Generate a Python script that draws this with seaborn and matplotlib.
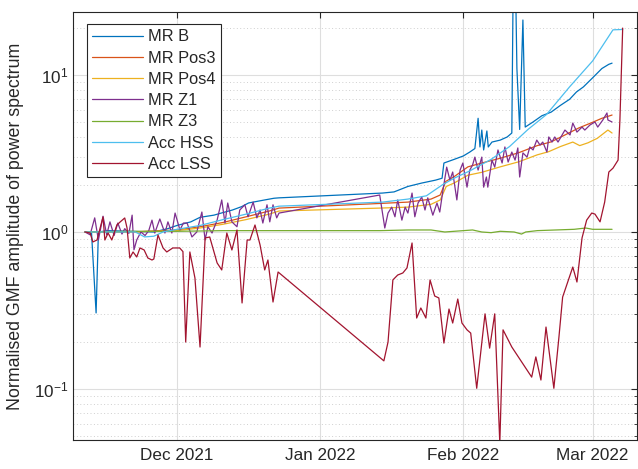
import matplotlib
matplotlib.use("Agg")
import matplotlib.pyplot as plt
import matplotlib.dates as mdates
from matplotlib.ticker import LogLocator, NullFormatter
import numpy as np
import pandas as pd
import seaborn as sns

# ---------------- data (days relative to 2021-12-01, normalised amplitude) -------------
base_date = "2021-12-01"

mrb_days = [-19.9, -18.5, -17.5, -17.0, -15, -10, -5, -2, 0, 3, 5, 8, 10, 12, 14, 15.5, 17, 19, 21, 22.1,
            44.5, 47, 50, 53, 56, 57.4, 57.8, 60, 62, 63.4, 64.5, 65.2, 65.6, 66.0, 66.4, 67.1, 67.4, 68.2,
            70, 71.5, 72.5, 72.8, 73.3, 73.6, 74.2, 74.9, 75.4, 77, 79, 81, 83, 85, 86.5, 88, 90, 92, 93.5, 94.2]
mrb_vals = [1.0, 1.0, 0.305, 1.0, 1.02, 1.01, 1.0, 1.05, 1.1, 1.16, 1.24, 1.28, 1.33, 1.38, 1.45, 1.53, 1.56, 1.6, 1.64, 1.65,
            1.77, 1.80, 1.95, 2.05, 2.14, 2.2, 2.75, 2.9, 3.05, 3.23, 3.4, 5.3, 3.48, 4.46, 3.33, 4.4, 3.48, 3.74,
            3.85, 4.03, 4.27, 40.0, 40.0, 11.0, 4.5, 22.4, 4.66, 5.0, 5.5, 5.8, 6.4, 7.0, 7.8, 8.4, 9.6, 11.0, 11.7, 11.9]

pos3_days = [-19.9, -10, 0, 5, 10, 15, 20, 22.1, 44, 50, 55, 57, 58.2, 60, 63, 66, 70, 74, 78, 81, 84, 87, 90, 92, 94.2]
pos3_vals = [1.0, 1.0, 1.03, 1.08, 1.15, 1.25, 1.36, 1.42, 1.52, 1.55, 1.62, 1.72, 2.1, 2.25, 2.6, 2.75, 2.95, 3.2,
             3.55, 3.75, 4.15, 4.6, 5.0, 5.3, 5.56]

pos4_days = [-19.9, -10, 0, 5, 10, 15, 20, 22.1, 44, 50, 55, 57, 58.3, 60, 63, 66, 70, 74, 78, 80.5, 83, 85.7,
             87.2, 89, 91, 93.3, 94.2]
pos4_vals = [1.0, 1.0, 1.02, 1.06, 1.12, 1.2, 1.3, 1.36, 1.42, 1.44, 1.5, 1.6, 1.95, 2.05, 2.3, 2.4, 2.6, 2.8, 3.1,
             3.25, 3.5, 3.74, 3.55, 3.7, 3.95, 4.46, 4.27]

z1_days = [-19.9, -18.8, -17.8, -17.0, -16.0, -15.2, -14.5, -13.6, -12.8, -11.9, -11.3, -10.4, -9.7, -9.3, -8.7,
           -7.8, -6.9, -6.1, -5.4, -4.8, -3.7, -2.6, -1.95, -1.1, -0.4, 0.65, 1.4, 2.2, 3.25, 4.3, 5.4, 6.1, 6.7,
           7.6, 8.7, 9.7, 10.4, 11.0, 11.9, 13.0, 13.6, 14.7, 15.4, 16.5, 17.3, 18.0, 18.6, 19.5, 20.1, 20.8, 21.6,
           22.1, 43.9, 45.0, 45.7, 46.5, 47.2, 47.8, 48.7, 49.4, 50.0, 50.9, 51.5, 52.2, 53.0, 53.7, 54.3, 55.4,
           56.3, 56.9, 57.6, 58.4, 59.1, 59.7, 60.6, 61.3, 61.9, 62.8, 63.4, 64.0, 64.5, 65.2, 66.0, 66.4, 67.0,
           67.3, 68.2, 68.8, 69.5, 70.4, 71.0, 71.7, 72.5, 73.2, 73.8, 74.2, 74.9, 75.8, 76.4, 77.1, 77.9, 78.6,
           79.2, 80.1, 80.5, 81.2, 81.8, 82.5, 84.0, 85.1, 85.7, 86.6, 87.7, 88.3, 89.4, 90.5, 91.1, 92.2, 93.1,
           93.3, 94.2]
z1_vals = [1.0, 0.96, 1.23, 0.89, 1.26, 0.96, 1.16, 0.95, 1.14, 0.97, 1.05, 0.98, 1.28, 0.77, 0.89,
           1.0, 0.95, 1.02, 1.19, 0.985, 1.21, 0.985, 1.16, 0.985, 1.32, 1.03, 1.14, 1.14, 0.93, 1.0, 1.34, 0.89, 1.08,
           0.985, 1.19, 1.60, 1.14, 1.53, 1.16, 1.08, 1.38, 1.49, 1.25, 1.55, 1.23, 1.38, 1.14, 1.49, 1.16, 1.49, 1.23,
           1.32, 1.72, 1.06, 1.32, 1.44, 1.25, 1.60, 1.19, 1.44, 1.32, 1.77, 1.25, 1.53, 1.67, 1.38, 1.65, 1.28,
           1.53, 1.34, 1.85, 2.59, 2.14, 2.41, 1.60, 2.48, 2.75, 1.93, 2.48, 2.67, 3.00, 2.48, 3.00, 1.93, 2.24,
           1.93, 2.87, 2.59, 3.33, 2.75, 3.48, 2.79, 3.23, 2.87, 3.43, 2.24, 3.19, 3.00, 3.48, 3.33, 3.85, 3.58,
           3.74, 3.23, 4.03, 3.74, 4.03, 3.74, 4.46, 4.15, 4.94, 4.33, 4.66, 4.46, 4.80, 5.02, 4.66, 5.17, 5.73,
           5.17, 5.02]

z3_days = [-19.9, -10, 0, 10, 20, 22.1, 44, 50, 55, 58, 60, 64, 66, 68, 70, 73, 74.6, 75.5, 78, 82, 86, 88.5, 90, 94.2]
z3_vals = [1.0, 1.01, 1.01, 1.02, 1.02, 1.02, 1.02, 1.03, 1.03, 1.0, 1.01, 1.03, 1.0, 0.99, 1.01, 1.0, 0.97, 1.0,
           1.02, 1.03, 1.04, 1.06, 1.04, 1.04]

hss_days = [-19.9, -13, -9, -7, -5, -3, 0, 5, 10, 15, 20, 22.1, 44.5, 50, 54, 57.5, 60, 63.4, 68, 72, 76, 80, 85,
            90, 94.4, 96.5]
hss_vals = [1.0, 1.0, 1.0, 0.93, 0.94, 1.0, 1.04, 1.1, 1.2, 1.3, 1.42, 1.46, 1.55, 1.62, 1.7, 2.0, 2.2, 2.45, 2.9,
            3.5, 4.5, 5.6, 8.4, 12.3, 19.4, 19.5]

lss_days = [-19.9, -18.8, -18.2, -17.3, -16.0, -15.6, -14.9, -14.1, -13.0, -12.3, -11.3, -10.8, -10.2, -9.5, -8.7,
            -8.0, -7.1, -6.3, -5.4, -5.0, -4.1, -3.0, -2.2, -0.9, 0.6, 1.3, 1.9, 2.8, 3.9, 5.0, 6.1, 7.1, 8.7, 9.7,
            10.8, 11.9, 13.0, 14.1, 15.2, 15.8, 16.9, 18.0, 19.0, 19.7, 20.8, 21.9, 44.8, 45.7, 46.75, 47.8, 48.9,
            49.8, 50.9, 51.9, 52.8, 53.9, 54.8, 55.8, 56.7, 57.8, 58.9, 59.7, 60.8, 61.7, 62.8, 63.6, 64.9, 66.7,
            67.7, 68.8, 69.9, 70.6, 72.5, 76.8, 77.7, 78.8, 79.9, 81.6, 82.7, 83.5, 84.6, 85.7, 86.6, 87.7, 88.7,
            89.8, 90.5, 91.6, 92.6, 93.5, 94.4, 95.5, 95.9, 96.5]
lss_vals = [1.0, 0.985, 0.864, 0.889, 1.246, 0.889, 0.985, 0.889, 1.108, 1.158, 1.228, 1.06, 0.683, 0.746, 0.693,
            0.791, 0.768, 0.683, 0.663, 0.673, 0.957, 0.791, 0.746, 0.791, 0.791, 0.75, 0.199, 0.746, 0.509, 0.185,
            0.916, 0.929, 0.635, 0.573, 0.985, 0.768, 1.03, 0.353, 0.889, 0.889, 1.108, 0.826, 0.573, 0.663, 0.358,
            0.556, 0.151, 0.199, 0.495, 0.532, 0.548, 0.590, 0.851, 0.283, 0.328, 0.283, 0.495, 0.391, 0.380,
            0.196, 0.323, 0.263, 0.374, 0.263, 0.238, 0.227, 0.101, 0.301, 0.182, 0.301, 0.045, 0.238, 0.185,
            0.119, 0.160, 0.114, 0.248, 0.101, 0.214, 0.385, 0.480, 0.598, 0.480, 0.916, 1.19, 1.32, 1.30, 1.16,
            1.55, 2.41, 2.55, 2.87, 5.17, 19.9]

series_names = ["MR B", "MR Pos3", "MR Pos4", "MR Z1", "MR Z3", "Acc HSS", "Acc LSS"]
series_colors = ["#0072BD", "#D95319", "#EDB120", "#7E2F8E", "#77AC30", "#4DBEEE", "#A2142F"]
series_data = [(mrb_days, mrb_vals), (pos3_days, pos3_vals), (pos4_days, pos4_vals), (z1_days, z1_vals),
               (z3_days, z3_vals), (hss_days, hss_vals), (lss_days, lss_vals)]

y_label = "Normalised GMF amplitude of power spectrum"
x_limits_days = (-22.5, 99.6)
y_limits = (0.0473, 25.2)

# ---------------- build long table ----------------
t0 = pd.Timestamp(base_date)
frames = []
for name, (d, v) in zip(series_names, series_data):
    frames.append(pd.DataFrame({"date": t0 + pd.to_timedelta(np.array(d), unit="D"),
                                "value": v, "series": name}))
df = pd.concat(frames, ignore_index=True)

# ---------------- plot ----------------
sns.set_style("white")
plt.rcParams["font.family"] = ["Liberation Sans", "DejaVu Sans"]
plt.rcParams["mathtext.fontset"] = "custom"
plt.rcParams["mathtext.rm"] = "Liberation Sans"
plt.rcParams["mathtext.it"] = "Liberation Sans:italic"

fig = plt.figure(figsize=(6.38, 4.69), dpi=100)
ax = fig.add_axes([73 / 638, 1 - 440 / 469, (637 - 73) / 638, (440 - 12) / 469])

sns.lineplot(data=df, x="date", y="value", hue="series", hue_order=series_names,
             palette=dict(zip(series_names, series_colors)), estimator=None, sort=False,
             units="series", linewidth=0.9, ax=ax, legend=True)

ax.set_yscale("log")
ax.set_ylim(*y_limits)
ax.set_xlim(t0 + pd.Timedelta(days=x_limits_days[0]), t0 + pd.Timedelta(days=x_limits_days[1]))

ax.xaxis.set_major_locator(mdates.MonthLocator())
ax.xaxis.set_major_formatter(mdates.DateFormatter("%b %Y"))
ax.yaxis.set_major_locator(LogLocator(base=10))
ax.yaxis.set_minor_locator(LogLocator(base=10, subs=np.arange(2, 10)))
ax.yaxis.set_minor_formatter(NullFormatter())

ax.grid(which="major", color="#dedede", linewidth=0.8, linestyle="-")
ax.grid(which="minor", axis="y", color="#cfcfcf", linewidth=0.7, linestyle=(0, (1, 2.5)))
ax.set_axisbelow(True)

ax.tick_params(which="both", direction="in", top=True, right=True, colors="#262626",
               labelsize=12.3, labelcolor="#262626")
ax.tick_params(which="major", length=4, width=0.8)
ax.tick_params(which="minor", length=2, width=0.6)
ax.tick_params(axis="x", pad=6)
for s in ax.spines.values():
    s.set_color("#262626")
    s.set_linewidth(0.8)

ax.set_xlabel("")
ax.set_ylabel(y_label, fontsize=12.8, color="#262626", labelpad=7)

leg = ax.legend(loc="upper left", bbox_to_anchor=(0.024, 0.972), fontsize=11.8, handlelength=3.1,
                labelspacing=0.38, borderpad=0.33, handletextpad=0.3, fancybox=False, framealpha=1,
                edgecolor="#262626", borderaxespad=0)
leg.get_frame().set_linewidth(0.8)

fig.savefig("out.png", dpi=100)
